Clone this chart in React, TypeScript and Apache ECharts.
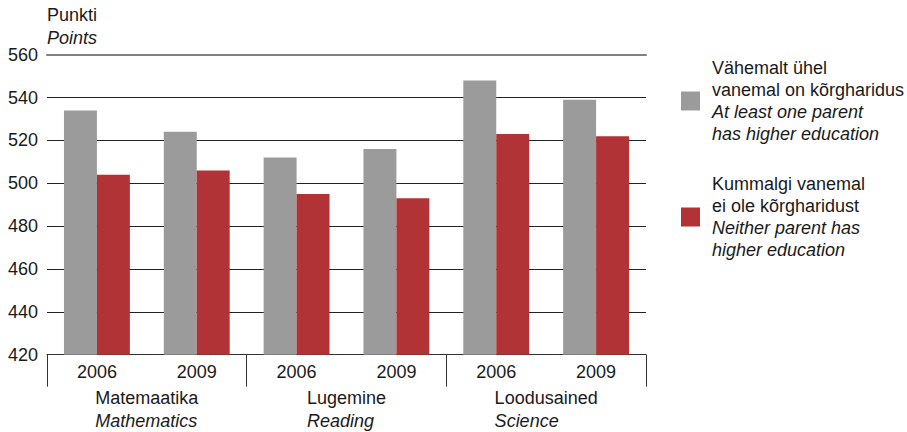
import React, { useEffect, useRef } from "react";
import * as echarts from "echarts";

const years = ["2006", "2009", "2006", "2009", "2006", "2009"];
const groupsEt = ["Matemaatika", "Lugemine", "Loodusained"];
const groupsEn = ["Mathematics", "Reading", "Science"];
const higherEdu = [534, 524, 512, 516, 548, 539];
const noHigherEdu = [504, 506, 495, 493, 523, 522];
const seriesNames = ["Vähemalt ühel vanemal on kõrgharidus", "Kummalgi vanemal ei ole kõrgharidust"];
const legendLines: Record<string, string[]> = {
  "Vähemalt ühel vanemal on kõrgharidus": ["Vähemalt ühel", "vanemal on kõrgharidus", "At least one parent", "has higher education"],
  "Kummalgi vanemal ei ole kõrgharidust": ["Kummalgi vanemal", "ei ole kõrgharidust", "Neither parent has", "higher education"],
};
const yTitle = ["Punkti", "Points"];
const colors = ["#9b9b9b", "#b23335"];

const FONT = "'Liberation Sans', Arial, Helvetica, sans-serif";
const TXT = "#1a1a1a";

export default function App() {
  const ref = useRef<HTMLDivElement>(null);
  useEffect(() => {
    if (!ref.current) return;
    const chart = echarts.init(ref.current, undefined, { renderer: "svg" });
    const grid = { left: 47, right: 261, top: 54.7, bottom: 77.3 };
    chart.setOption({
      animation: false,
      textStyle: { fontFamily: FONT, color: TXT },
      title: {
        text: `{n|${yTitle[0]}}\n{i|${yTitle[1]}}`,
        left: 47,
        top: 3,
        padding: 0,
        textStyle: {
          fontFamily: FONT,
          fontWeight: "normal",
          rich: {
            n: { fontSize: 18, lineHeight: 23, color: TXT, fontFamily: FONT, fontWeight: "normal" },
            i: { fontSize: 18, lineHeight: 23, color: TXT, fontStyle: "italic", fontFamily: FONT, fontWeight: "normal" },
          },
        },
      },
      legend: {
        orient: "vertical",
        left: 676,
        top: 54,
        itemWidth: 19,
        itemHeight: 19,
        itemGap: 32,
        icon: "rect",
        data: seriesNames,
        formatter: (name: string) => {
          const l = legendLines[name];
          return `{n|${l[0]}}\n{n|${l[1]}}\n{i|${l[2]}}\n{i|${l[3]}}`;
        },
        textStyle: {
          padding: [0, 0, 0, 7],
          rich: {
            n: { fontSize: 18, lineHeight: 22, color: TXT, fontFamily: FONT },
            i: { fontSize: 18, lineHeight: 22, color: TXT, fontStyle: "italic", fontFamily: FONT },
          },
        },
      },
      grid,
      xAxis: [
        {
          type: "category",
          data: years,
          position: "bottom",
          axisLine: { show: true, lineStyle: { color: "#333", width: 1 } },
          axisTick: { show: false },
          axisLabel: { fontSize: 18, color: TXT, margin: 8, fontFamily: FONT },
        },
        {
          type: "category",
          data: groupsEt,
          position: "bottom",
          axisLine: { show: false },
          axisTick: { show: true, length: 32, lineStyle: { color: "#333", width: 1 } },
          axisLabel: {
            margin: 32,
            formatter: (_v: string, i: number) => `{n|${groupsEt[i]}}\n{i|${groupsEn[i]}}`,
            rich: {
              n: { fontSize: 18, lineHeight: 23, color: TXT, align: "left", fontFamily: FONT },
              i: { fontSize: 18, lineHeight: 23, color: TXT, align: "left", fontStyle: "italic", fontFamily: FONT },
            },
          },
        },
        {
          type: "category",
          data: years,
          position: "top",
          axisLine: { show: true, lineStyle: { color: "#808080", width: 2 } },
          axisTick: { show: false },
          axisLabel: { show: false },
        },
      ],
      yAxis: {
        type: "value",
        min: 420,
        max: 560,
        interval: 20,
        axisLine: { show: false },
        axisTick: { show: false },
        axisLabel: { fontSize: 18, color: TXT, margin: 9, fontFamily: FONT },
        splitLine: {
          lineStyle: {
            color: ["#222", "#222", "#222", "#222", "#222", "#222", "#222", "#808080"],
            width: 1,
          },
        },
      },
      series: [
        {
          name: seriesNames[0],
          type: "bar",
          xAxisIndex: 0,
          data: higherEdu,
          itemStyle: { color: colors[0] },
          barGap: "0%",
          barCategoryGap: "34%",
        },
        {
          name: seriesNames[1],
          type: "bar",
          xAxisIndex: 0,
          data: noHigherEdu,
          itemStyle: { color: colors[1] },
          barGap: "0%",
          barCategoryGap: "34%",
        },
      ],
    });
    return () => chart.dispose();
  }, []);
  return <div ref={ref} style={{ position: "fixed", left: 0, top: 0, width: 907, height: 432, background: "#fff" }} />;
}
